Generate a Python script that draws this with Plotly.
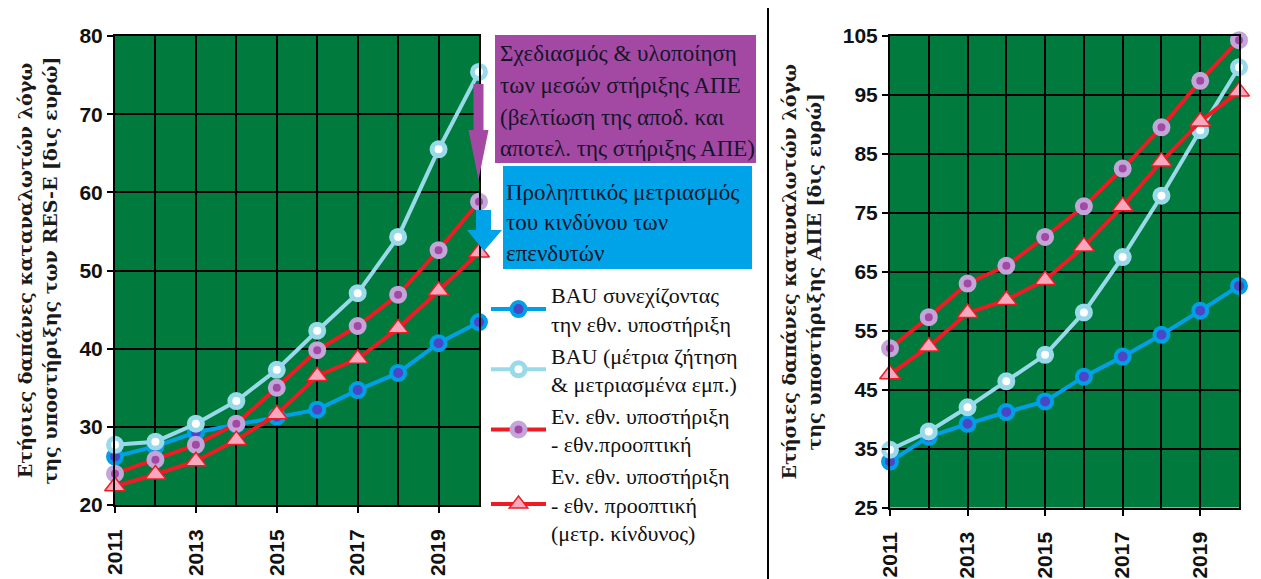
import plotly.graph_objects as go

W, H = 1261, 579

years = list(range(2011, 2021))
year_ticks = [2011, 2013, 2015, 2017, 2019]

# Left chart (RES-E support, bn EUR)
left_bau_cont = [26.2, 27.5, 29.3, 30.3, 31.3, 32.2, 34.7, 36.9, 40.7, 43.4]
left_bau_mod = [27.7, 28.1, 30.4, 33.3, 37.3, 42.3, 47.1, 54.3, 65.5, 75.4]
left_enh = [24.0, 25.8, 27.7, 30.4, 35.0, 39.8, 42.9, 46.9, 52.6, 58.8]
left_enh_risk = [22.4, 23.9, 25.6, 28.3, 31.6, 36.5, 38.7, 42.6, 47.4, 52.3]

# Right chart (RES support, bn EUR)
right_bau_cont = [32.8, 37.0, 39.2, 41.2, 43.0, 47.2, 50.6, 54.3, 58.4, 62.6]
right_bau_mod = [34.8, 37.9, 42.0, 46.4, 50.9, 58.1, 67.5, 77.9, 89.0, 99.7]
right_enh = [52.0, 57.3, 63.0, 66.0, 70.9, 76.1, 82.5, 89.5, 97.4, 104.3]
right_enh_risk = [47.6, 52.3, 58.0, 60.2, 63.6, 69.3, 76.1, 83.7, 90.5, 95.6]

names = [
    "BAU συνεχίζοντας<br>την εθν. υποστήριξη",
    "BAU (μέτρια ζήτηση<br>& μετριασμένα εμπ.)",
    "Εν. εθν. υποστήριξη<br>- εθν.προοπτική",
    "Εν. εθν. υποστήριξη<br>- εθν. προοπτική<br>(μετρ. κίνδυνος)",
]

box1_lines = ["Σχεδιασμός & υλοποίηση", "των μεσών στήριξης ΑΠΕ",
              "(βελτίωση της αποδ. και", "αποτελ. της στήριξης ΑΠΕ)"]
box2_lines = ["Προληπτικός μετριασμός", "του κινδύνου των", "επενδυτών"]

left_title = "Ετήσιες δαπάνες καταναλωτών λόγω<br>της υποστήριξης των RES-E [δις ευρώ]"
right_title = "Ετήσιες δαπάνες καταναλωτών λόγω<br>της υποστήριξης ΑΠΕ [δις ευρώ]"

GREEN = "#007A3D"
BLUE = "#00A0E6"
INDIGO = "#4B45C8"
LBLUE = "#99DAEA"
RED = "#ED1C24"
PURPLE = "#A349A4"
LAVENDER = "#C3A5DA"
PINK = "#F7A8BE"

styles = [
    dict(line=dict(color=BLUE, width=4),
         marker=dict(symbol="circle", size=14, color=INDIGO, line=dict(color=BLUE, width=4))),
    dict(line=dict(color=LBLUE, width=4),
         marker=dict(symbol="circle", size=13, color="white", line=dict(color=LBLUE, width=5))),
    dict(line=dict(color=RED, width=4),
         marker=dict(symbol="circle", size=13, color=PURPLE, line=dict(color=LAVENDER, width=5))),
    dict(line=dict(color=RED, width=4),
         marker=dict(symbol="triangle-up", size=18, color=PINK, line=dict(color=RED, width=1.5))),
]

fig = go.Figure()
left_series = [left_bau_cont, left_bau_mod, left_enh, left_enh_risk]
right_series = [right_bau_cont, right_bau_mod, right_enh, right_enh_risk]
for i, (ys, st) in enumerate(zip(left_series, styles)):
    fig.add_trace(go.Scatter(x=years, y=ys, mode="lines+markers", name=names[i],
                             legendgroup=f"g{i}", showlegend=True, cliponaxis=False,
                             xaxis="x", yaxis="y", **st))
for i, (ys, st) in enumerate(zip(right_series, styles)):
    fig.add_trace(go.Scatter(x=years, y=ys, mode="lines+markers", name=names[i],
                             legendgroup=f"g{i}", showlegend=False, cliponaxis=False,
                             xaxis="x2", yaxis="y2", **st))

tickfont = dict(family="Liberation Sans", size=21, color="#111", weight="bold")
titlefont = dict(family="DejaVu Serif", size=19, color="#1a1a1a", weight="bold")

def xax(domain):
    return dict(domain=domain, range=[2011, 2020], tickvals=year_ticks,
                ticktext=[str(v) for v in year_ticks], tickangle=-90,
                tickfont=tickfont, ticks="outside", ticklen=6, tickwidth=2,
                tickcolor="black", showgrid=True, gridcolor="black", gridwidth=2,
                minor=dict(dtick=1, tick0=2011, showgrid=True, gridcolor="black", gridwidth=2),
                showline=True, linecolor="black", linewidth=2, mirror=True,
                zeroline=False, ticklabelstandoff=8, automargin=False)

def yax(domain, rng, tick0, anchor, title, standoff):
    return dict(domain=domain, range=rng, tick0=tick0, dtick=10, anchor=anchor,
                tickfont=tickfont, ticks="outside", ticklen=6, tickwidth=2,
                tickcolor="black", showgrid=True, gridcolor="black", gridwidth=2,
                showline=True, linecolor="black", linewidth=2, mirror=True,
                zeroline=False, automargin=False,
                title=dict(text=title, font=titlefont, standoff=standoff))

fig.update_layout(
    width=W, height=H, autosize=False,
    margin=dict(l=0, r=0, t=0, b=0, autoexpand=False),
    paper_bgcolor="white", plot_bgcolor=GREEN,
    xaxis=dict(**xax([115 / W, 479 / W]), anchor="y"),
    yaxis=yax([1 - 505 / H, 1 - 36 / H], [20, 80], 20, "x", left_title, 17),
    xaxis2=dict(**xax([890 / W, 1239 / W]), anchor="y2"),
    yaxis2=yax([1 - 507.5 / H, 1 - 36 / H], [25, 105], 25, "x2", right_title, 16),
    legend=dict(x=486 / W, y=1 - 274 / H, xanchor="left", yanchor="top",
                font=dict(family="Liberation Serif", size=22, color="#111"),
                bgcolor="rgba(0,0,0,0)", itemwidth=55, tracegroupgap=0,
                traceorder="normal"),
    showlegend=True,
)

def px_x(x):
    return x / W

def px_y(y):
    return 1 - y / H

shapes = []
# divider line
shapes.append(dict(type="line", xref="paper", yref="paper",
                   x0=px_x(768), x1=px_x(768), y0=px_y(8), y1=0,
                   line=dict(color="black", width=2)))
# boxes
shapes.append(dict(type="rect", xref="paper", yref="paper",
                   x0=px_x(495), x1=px_x(756), y0=px_y(163), y1=px_y(35),
                   fillcolor=PURPLE, line=dict(width=0), layer="below"))
shapes.append(dict(type="rect", xref="paper", yref="paper",
                   x0=px_x(503), x1=px_x(752), y0=px_y(269), y1=px_y(166),
                   fillcolor="#00A2E8", line=dict(width=0), layer="below"))

def path(points):
    s = "M " + " L ".join(f"{px_x(x):.5f},{px_y(y):.5f}" for x, y in points) + " Z"
    return s

# purple block arrow
shapes.append(dict(type="path", xref="paper", yref="paper",
                   path=path([(473.5, 84), (483.5, 84), (483.5, 130), (488.5, 130),
                              (478.5, 180), (468.5, 130), (473.5, 130)]),
                   fillcolor=PURPLE, line=dict(width=0)))
# blue block arrow
shapes.append(dict(type="path", xref="paper", yref="paper",
                   path=path([(476, 210), (491, 210), (491, 230), (502, 230),
                              (484, 251), (467, 230), (476, 230)]),
                   fillcolor="#00A2E8", line=dict(width=0)))

annotations = []
boxfont = dict(family="Liberation Serif", size=23, color="#15152a")
for i, t in enumerate(box1_lines):
    annotations.append(dict(text=t, xref="paper", yref="paper", x=px_x(498), y=px_y(53 + 32 * i),
                            xanchor="left", yanchor="middle", showarrow=False, font=boxfont))
for i, t in enumerate(box2_lines):
    annotations.append(dict(text=t, xref="paper", yref="paper", x=px_x(504), y=px_y(192 + 30.5 * i),
                            xanchor="left", yanchor="middle", showarrow=False, font=boxfont))

fig.update_layout(shapes=shapes, annotations=annotations)

fig.write_html("out.html",
               config={"displayModeBar": False},
               post_script="document.body.style.margin='0';document.body.style.padding='0';"
                           "document.body.style.overflow='hidden';")
